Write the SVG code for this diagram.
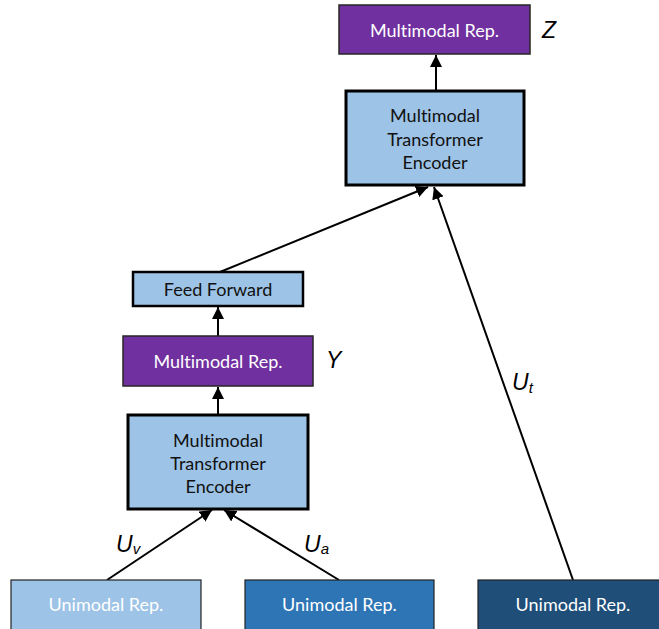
<svg xmlns="http://www.w3.org/2000/svg" width="659" height="629" viewBox="0 0 659 629">
<style>
.light{fill:#9DC3E6}
.purple{fill:#7030A0;stroke:#262626;stroke-width:1.5}
.thick{stroke:#000;stroke-width:3}
.uni{stroke:#222;stroke-width:1.2}
.t{font-family:Lato,"Open Sans",sans-serif;font-size:18px;text-anchor:middle;dominant-baseline:central;font-variant-ligatures:none}
.w{fill:#fff}
.k{fill:#111}
.lab{font-family:"Liberation Sans",Arial,sans-serif;font-style:italic;font-size:23px;fill:#000}
.sub{font-size:15px}
.c{stroke:#000;stroke-width:2;fill:none;marker-end:url(#ah)}
</style>
<defs>
<marker id="ah" viewBox="0 0 10 10" refX="10" refY="5" markerWidth="6" markerHeight="6" orient="auto" markerUnits="strokeWidth">
<path d="M0,0 L10,5 L0,10 Z" fill="#000"/>
</marker>
</defs>
<g id="connectors">
<line class="c" x1="436" y1="91" x2="436" y2="55"/>
<line class="c" x1="220" y1="272" x2="428" y2="187"/>
<line class="c" x1="573" y1="580" x2="434" y2="187"/>
<line class="c" x1="218" y1="336" x2="218" y2="307"/>
<line class="c" x1="218" y1="415" x2="218" y2="387"/>
<line class="c" x1="107" y1="580" x2="212" y2="510"/>
<line class="c" x1="339" y1="580" x2="224" y2="510"/>
</g>
<g id="rep-z">
<rect class="purple" x="339" y="5" width="191" height="49"/>
<text class="t w" x="434.5" y="30">Multimodal Rep.</text>
</g>
<text id="label-z" class="lab" x="542" y="38">Z</text>
<g id="encoder-top">
<rect class="light thick" x="346" y="91" width="178" height="94"/>
<text class="t k" x="435" y="115">Multimodal</text>
<text class="t k" x="435" y="138.5">Transformer</text>
<text class="t k" x="435" y="162">Encoder</text>
</g>
<g id="feed-forward">
<rect class="light" x="133" y="272" width="170" height="34" stroke="#000" stroke-width="2.5"/>
<text class="t k" x="218" y="289">Feed Forward</text>
</g>
<g id="rep-y">
<rect class="purple" x="123" y="336" width="190" height="50"/>
<text class="t w" x="218" y="360.5">Multimodal Rep.</text>
</g>
<text id="label-y" class="lab" x="326" y="368">Y</text>
<g id="encoder-bottom">
<rect class="light thick" x="128" y="415" width="180" height="94"/>
<text class="t k" x="218" y="440">Multimodal</text>
<text class="t k" x="218" y="463">Transformer</text>
<text class="t k" x="218" y="486">Encoder</text>
</g>
<text id="label-uv" class="lab" x="116" y="552">U<tspan class="sub" dy="2">v</tspan></text>
<text id="label-ua" class="lab" x="304" y="552">U<tspan class="sub" dy="2">a</tspan></text>
<text id="label-ut" class="lab" x="512" y="390">U<tspan class="sub" dy="3">t</tspan></text>
<g id="uni-v">
<rect class="uni" x="11" y="580" width="190" height="52" fill="#9DC3E6"/>
<text class="t w" x="106" y="604">Unimodal Rep.</text>
</g>
<g id="uni-a">
<rect class="uni" x="245" y="580" width="189" height="52" fill="#2E75B6"/>
<text class="t w" x="339.5" y="604">Unimodal Rep.</text>
</g>
<g id="uni-t">
<rect class="uni" x="478" y="580" width="190" height="52" fill="#1F4E79"/>
<text class="t w" x="573" y="604">Unimodal Rep.</text>
</g>
</svg>
